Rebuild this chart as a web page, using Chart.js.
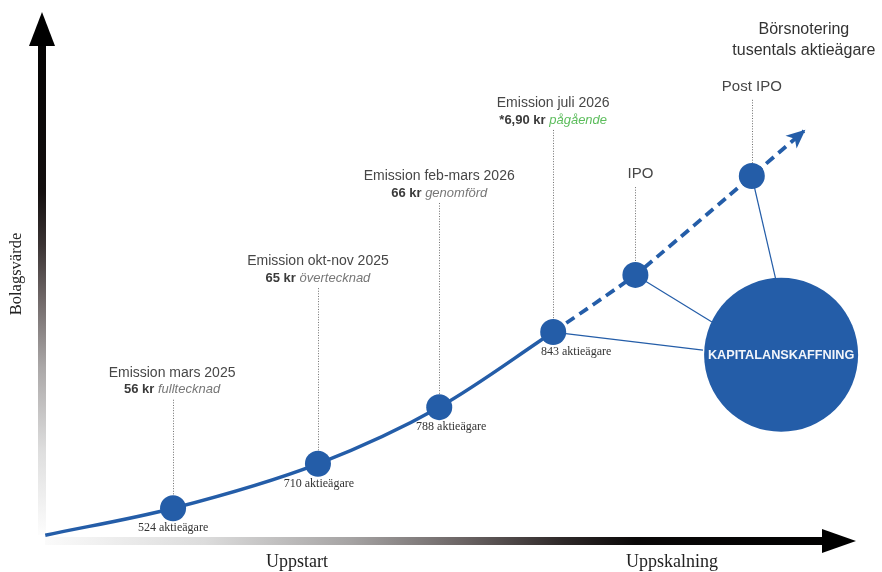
<!DOCTYPE html>
<html lang="sv">
<head>
<meta charset="utf-8">
<title>Bolagsvärde</title>
<script src="https://cdn.jsdelivr.net/npm/chart.js@4"></script>
<style>
html, body { margin: 0; padding: 0; background: #fff; }
#wrap { width: 882px; height: 572px; }
</style>
</head>
<body>
<div id="wrap"><canvas id="growthChart"></canvas></div>
<script>
const ctx = document.getElementById('growthChart').getContext('2d');

// Milstolpar på kurvan (x = tid, y = bolagsvärde, skala 0-100)
const milestoneX = [16.1, 33.9, 48.8, 62.8, 72.9, 87.2];
const milestoneY = [6.2, 14.6, 25.3, 39.5, 50.3, 69.0];
const titles = ['Emission mars 2025', 'Emission okt-nov 2025', 'Emission feb-mars 2026', 'Emission juli 2026', 'IPO', 'Post IPO'];
const prices = ['56 kr', '65 kr', '66 kr', '*6,90 kr', '', ''];
const statuses = ['fulltecknad', 'övertecknad', 'genomförd', 'pågående', '', ''];
const shareholders = ['524 aktieägare', '710 aktieägare', '788 aktieägare', '843 aktieägare', '', ''];
const leaderTop = [26.7, 47.8, 63.9, 77.7, 66.9, 83.4];

// kurvans start och pilens spets
const curveStart = { x: 0.4, y: 1.1 };
const curveEnd = { x: 93.6, y: 77.5 };
const lastDone = 3; // sista genomförda emissionen, därefter streckat

// Kapitalanskaffning
const capitalX = 90.8;
const capitalY = 35.2;
const connectFrom = [3, 4, 5];
const connectToX = [81.2, 82.3, 90.2];
const connectToY = [36.1, 41.4, 49.1];

const BLUE = '#245da8';
const SANS = '"Liberation Sans", Arial, Helvetica, sans-serif';
const SERIF = '"Liberation Serif", "Times New Roman", serif';

// små förskjutningar av texterna (px)
const titleShift = [-1, 0, 0, 0, 5, 0];
const countShift = [0, 1, 12, 23, 0, 0];

const milestones = milestoneX.map((v, i) => ({ x: v, y: milestoneY[i] }));
const solidPoints = [curveStart].concat(milestones.slice(0, lastDone + 1));
const dashedPoints = milestones.slice(lastDone).concat([curveEnd]);

const connectors = connectFrom.map((idx, i) => ({
    data: [milestones[idx], { x: connectToX[i], y: connectToY[i] }],
    borderColor: BLUE,
    borderWidth: 1.2,
    pointRadius: 0,
    tension: 0
}));

const sketchPlugin = {
    id: 'sketch',
    beforeDatasetsDraw(chart) {
        const { ctx, chartArea: a, scales: { x, y } } = chart;
        ctx.save();

        // Y-axel med pil
        let g = ctx.createLinearGradient(0, a.bottom, 0, a.top);
        g.addColorStop(0, '#ffffff');
        g.addColorStop(0.17, '#dedede');
        g.addColorStop(0.33, '#aaa7a7');
        g.addColorStop(0.46, '#6e6666');
        g.addColorStop(0.56, '#3a3333');
        g.addColorStop(0.66, '#141010');
        g.addColorStop(1, '#000000');
        ctx.fillStyle = g;
        ctx.fillRect(a.left - 4, a.top + 30, 8, a.bottom - a.top - 36);
        ctx.fillStyle = '#000';
        ctx.beginPath();
        ctx.moveTo(a.left, a.top);
        ctx.lineTo(a.left + 13, a.top + 34);
        ctx.lineTo(a.left - 13, a.top + 34);
        ctx.closePath();
        ctx.fill();

        // X-axel med pil
        g = ctx.createLinearGradient(a.left, 0, a.right, 0);
        g.addColorStop(0, '#fbfbfb');
        g.addColorStop(0.2, '#dcdcdc');
        g.addColorStop(0.38, '#a5a3a3');
        g.addColorStop(0.52, '#6a6363');
        g.addColorStop(0.64, '#2e2828');
        g.addColorStop(0.73, '#0a0808');
        g.addColorStop(1, '#000000');
        ctx.fillStyle = g;
        ctx.fillRect(a.left + 3, a.bottom - 4, a.right - a.left - 30, 8);
        ctx.fillStyle = '#000';
        ctx.beginPath();
        ctx.moveTo(a.right, a.bottom);
        ctx.lineTo(a.right - 34, a.bottom - 12);
        ctx.lineTo(a.right - 34, a.bottom + 12);
        ctx.closePath();
        ctx.fill();

        // prickade linjer
        ctx.strokeStyle = '#6f6f6f';
        ctx.lineWidth = 1;
        ctx.setLineDash([1, 1.6]);
        milestones.forEach((p, i) => {
            const px = Math.round(x.getPixelForValue(p.x)) + 0.5;
            ctx.beginPath();
            ctx.moveTo(px, y.getPixelForValue(leaderTop[i]));
            ctx.lineTo(px, y.getPixelForValue(p.y) - 13);
            ctx.stroke();
        });
        ctx.restore();
    },
    afterDatasetsDraw(chart) {
        const { ctx, chartArea: a, scales: { x, y } } = chart;
        ctx.save();

        // pilspets på streckad linje
        const last = milestones[milestones.length - 1];
        const tx = x.getPixelForValue(curveEnd.x), ty = y.getPixelForValue(curveEnd.y);
        const ang = Math.atan2(ty - y.getPixelForValue(last.y), tx - x.getPixelForValue(last.x));
        ctx.translate(tx, ty);
        ctx.rotate(ang);
        ctx.fillStyle = BLUE;
        ctx.beginPath();
        ctx.moveTo(2, 0);
        ctx.lineTo(-17, -8.5);
        ctx.lineTo(-12, 0);
        ctx.lineTo(-17, 8.5);
        ctx.closePath();
        ctx.fill();
        ctx.setTransform(chart.currentDevicePixelRatio, 0, 0, chart.currentDevicePixelRatio, 0, 0);

        ctx.textBaseline = 'middle';
        milestones.forEach((p, i) => {
            const px = x.getPixelForValue(p.x);
            const py = y.getPixelForValue(p.y);
            const top = y.getPixelForValue(leaderTop[i]);
            const cx = px + titleShift[i];

            ctx.textAlign = 'center';
            if (prices[i]) {
                ctx.fillStyle = '#474747';
                ctx.font = '14px ' + SANS;
                ctx.fillText(titles[i], cx, top - 27);

                // pris + status
                const boldFont = 'bold 13px ' + SANS;
                const italFont = 'italic 13px ' + SANS;
                ctx.font = boldFont;
                const w1 = ctx.measureText(prices[i] + ' ').width;
                ctx.font = italFont;
                const w2 = ctx.measureText(statuses[i]).width;
                let sx = cx - (w1 + w2) / 2;
                ctx.textAlign = 'left';
                ctx.font = boldFont;
                ctx.fillStyle = '#3a3a3a';
                ctx.fillText(prices[i] + ' ', sx, top - 10);
                ctx.font = italFont;
                ctx.fillStyle = statuses[i] === 'pågående' ? '#5cbd5c' : '#777777';
                ctx.fillText(statuses[i], sx + w1, top - 10);
            } else {
                ctx.fillStyle = '#474747';
                ctx.font = '15px ' + SANS;
                ctx.fillText(titles[i], cx, top - 13);
            }

            if (shareholders[i]) {
                ctx.textAlign = 'center';
                ctx.fillStyle = '#333';
                ctx.font = '12px ' + SERIF;
                ctx.fillText(shareholders[i], px + countShift[i], py + 20);
            }
        });

        // Börsnotering
        ctx.textAlign = 'center';
        ctx.fillStyle = '#333';
        ctx.font = '16px ' + SANS;
        ctx.fillText('Börsnotering', tx, ty - 101);
        ctx.fillText('tusentals aktieägare', tx, ty - 80);

        // text i cirkeln
        ctx.fillStyle = '#f2f5fa';
        ctx.font = 'bold 12.7px ' + SANS;
        ctx.fillText('KAPITALANSKAFFNING', x.getPixelForValue(capitalX), y.getPixelForValue(capitalY) + 1);

        // axeltitlar
        ctx.fillStyle = '#222';
        ctx.font = '18px ' + SERIF;
        ctx.fillText('Uppstart', 297, a.bottom + 21);
        ctx.fillText('Uppskalning', 672, a.bottom + 21);
        ctx.translate(17, 274);
        ctx.rotate(-Math.PI / 2);
        ctx.font = '16.5px ' + SERIF;
        ctx.fillText('Bolagsvärde', 0, 0);
        ctx.restore();
    }
};

const growthChart = new Chart(ctx, {
    type: 'line',
    data: {
        datasets: [
            {
                data: milestones,
                showLine: false,
                pointRadius: 13,
                pointBackgroundColor: BLUE,
                pointBorderWidth: 0
            },
            {
                data: [{ x: capitalX, y: capitalY }],
                showLine: false,
                pointRadius: 77,
                pointBackgroundColor: BLUE,
                pointBorderWidth: 0
            },
            {
                data: solidPoints,
                borderColor: BLUE,
                borderWidth: 3.5,
                pointRadius: 0,
                cubicInterpolationMode: 'monotone'
            },
            {
                data: dashedPoints,
                borderColor: BLUE,
                borderWidth: 3.8,
                borderDash: [10, 6],
                pointRadius: 0,
                tension: 0.12
            },
            ...connectors
        ]
    },
    options: {
        responsive: true,
        maintainAspectRatio: false,
        animation: false,
        events: [],
        clip: false,
        layout: { autoPadding: false, padding: { left: 42, right: 26, top: 12, bottom: 31 } },
        plugins: { legend: { display: false }, tooltip: { enabled: false } },
        scales: {
            x: { type: 'linear', min: 0, max: 100, display: false },
            y: { type: 'linear', min: 0, max: 100, display: false }
        }
    },
    plugins: [sketchPlugin]
});
</script>
</body>
</html>
